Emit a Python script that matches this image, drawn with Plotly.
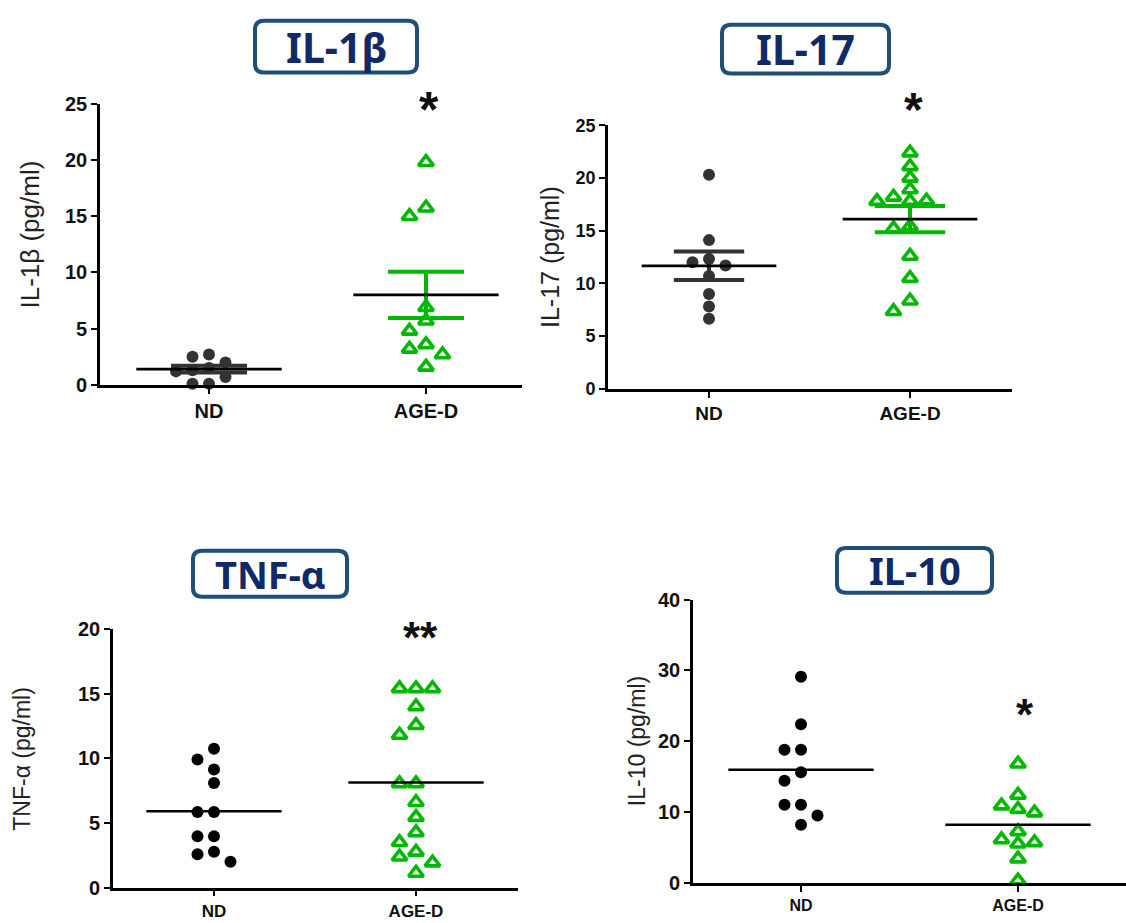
import plotly.graph_objects as go

W, H = 1126, 923

categories = ["ND", "AGE-D"]

# IL-1beta (pg/ml)
il1b_nd = [2.7, 2.5, 2.0, 1.5, 1.3, 1.2, 0.7, 0.1, 0.1]
il1b_age = [19.8, 15.75, 15.0, 6.9, 5.7, 4.8, 3.6, 3.2, 2.7, 1.6]
il1b_mean = [1.4, 8.0]
il1b_sem = [0.3, 2.05]
il1b_sig = ["", "*"]

# IL-17 (pg/ml)
il17_nd = [20.3, 14.1, 12.3, 12.0, 11.7, 10.7, 9.0, 7.8, 6.65]
il17_age = [22.4, 21.1, 20.0, 18.9, 18.2, 17.85, 17.8, 17.8, 15.4, 15.2, 12.6, 10.5, 8.35, 7.35]
il17_mean = [11.66, 16.09]
il17_sem = [1.35, 1.25]
il17_sig = ["", "*"]

# TNF-alpha (pg/ml)
tnf_nd = [10.74, 9.9, 9.13, 8.08, 5.85, 5.85, 3.96, 3.96, 2.78, 2.58, 2.0]
tnf_age = [15.4, 15.4, 15.4, 14.0, 12.55, 11.8, 8.05, 8.05, 6.6, 5.45, 4.27, 3.5, 2.76, 2.38, 1.93, 1.13]
tnf_mean = [5.9, 8.13]
tnf_sig = ["", "**"]

# IL-10 (pg/ml)
il10_nd = [29.1, 22.4, 18.8, 18.8, 15.6, 14.4, 11.0, 11.0, 9.5, 8.2]
il10_age = [16.8, 12.4, 10.9, 10.4, 9.9, 7.25, 6.1, 5.7, 5.5, 3.4, 0.3]
il10_mean = [15.96, 8.2]
il10_sig = ["", "*"]

GREEN = "#00B800"
NAVY = "#0F2A66"
BOX = "#1F4E79"

panels = [
    dict(title="IL-1β", ytitle="IL-1β (pg/ml)", nd=il1b_nd, age=il1b_age, mean=il1b_mean, sem=il1b_sem,
         sig=il1b_sig, yr=[0, 25], dtick=5, px=(100, 522), py=(95, 383), cat=(209, 426),
         nd_color="#333333", tick_size=20, xtick_size=20, ytitle_x=30, ytitle_y=229, ytitle_size=26,
         box=(255, 10, 417, 63), title_size=41, sig_size=50, sig_dx=0.014, sig_px_y=101),
    dict(title="IL-17", ytitle="IL-17 (pg/ml)", nd=il17_nd, age=il17_age, mean=il17_mean, sem=il17_sem,
         sig=il17_sig, yr=[0, 25], dtick=5, px=(608, 1012), py=(117, 387), cat=(709, 910),
         nd_color="#333333", tick_size=18, xtick_size=19, ytitle_x=550, ytitle_y=252, ytitle_size=25,
         box=(722, 14, 889, 64), title_size=41, sig_size=48, sig_dx=0.015, sig_px_y=101),
    dict(title="TNF-α", ytitle="TNF-α (pg/ml)", nd=tnf_nd, age=tnf_age, mean=tnf_mean, sem=None,
         sig=tnf_sig, yr=[0, 20], dtick=5, px=(113, 518), py=(633, 898), cat=(214, 416),
         nd_color="#000000", tick_size=20, xtick_size=17, ytitle_x=22, ytitle_y=766, ytitle_size=23,
         box=(193, 553, 347, 600), title_size=38, sig_size=44, sig_dx=0.02, sig_px_y=642),
    dict(title="IL-10", ytitle="IL-10 (pg/ml)", nd=il10_nd, age=il10_age, mean=il10_mean, sem=None,
         sig=il10_sig, yr=[0, 40], dtick=10, px=(693, 1126), py=(603, 893), cat=(801, 1018),
         nd_color="#000000", tick_size=20, xtick_size=16, ytitle_x=637, ytitle_y=748, ytitle_size=23,
         box=(837, 550, 992, 596), title_size=38, sig_size=44, sig_dx=0.032, sig_px_y=721),
]


def swarm(values, px_per_unit, gap_px=11.5):
    order = sorted(range(len(values)), key=lambda i: -values[i])
    slots = [0] * len(values)
    placed = []
    for i in order:
        chosen = 0
        for s in [0, -1, 1, -2, 2, -3, 3]:
            if all(not (ps == s and abs(values[j] - values[i]) * px_per_unit < gap_px) for j, ps in placed):
                chosen = s
                break
        slots[i] = chosen
        placed.append((i, chosen))
    return slots


def rounded_path(x0, y0, x1, y1, r):
    def P(x, y):
        return f"{x / W:.5f},{1 - y / H:.5f}"
    return (f"M {P(x0 + r, y0)} L {P(x1 - r, y0)} Q {P(x1, y0)} {P(x1, y0 + r)} "
            f"L {P(x1, y1 - r)} Q {P(x1, y1)} {P(x1 - r, y1)} L {P(x0 + r, y1)} "
            f"Q {P(x0, y1)} {P(x0, y1 - r)} L {P(x0, y0 + r)} Q {P(x0, y0)} {P(x0 + r, y0)} Z")


fig = go.Figure()
annotations = []
shapes = []
layout_axes = {}

for k, p in enumerate(panels):
    n = k + 1
    xa = "x" if n == 1 else f"x{n}"
    ya = "y" if n == 1 else f"y{n}"
    cat_px = p["cat"][1] - p["cat"][0]
    xr = [-(p["cat"][0] - p["px"][0]) / cat_px, (p["px"][1] - p["cat"][0]) / cat_px]
    y_ppu = (p["py"][1] - p["py"][0]) / (p["yr"][1] - p["yr"][0])
    slot_w = 16.5 / cat_px

    groups = [(p["nd"], 0, p["nd_color"], "circle", 12, 0),
              (p["age"], 1, GREEN, "triangle-up-open", 13, 3.6)]
    for vals, base, color, sym, size, lw in groups:
        slots = swarm(vals, y_ppu)
        fig.add_trace(go.Scatter(
            x=[base + s * slot_w for s in slots], y=vals, mode="markers",
            marker=dict(symbol=sym, size=size, color=color, line=dict(width=lw, color=color)),
            xaxis=xa, yaxis=ya, cliponaxis=False, showlegend=False, hoverinfo="y"))

    if p["sem"] is not None:
        for base, color in [(0, p["nd_color"]), (1, GREEN)]:
            m, s = p["mean"][base], p["sem"][base]
            cw = 0.175
            fig.add_trace(go.Scatter(
                x=[base - cw, base + cw, None, base, base, None, base - cw, base + cw],
                y=[m + s, m + s, None, m + s, m - s, None, m - s, m - s],
                mode="lines", line=dict(color=color, width=4), xaxis=xa, yaxis=ya,
                cliponaxis=False, showlegend=False, hoverinfo="skip"))
    for base in [0, 1]:
        m = p["mean"][base]
        fig.add_trace(go.Scatter(
            x=[base - 0.335, base + 0.335], y=[m, m], mode="lines",
            line=dict(color="#000000", width=2.6), xaxis=xa, yaxis=ya,
            cliponaxis=False, showlegend=False, hoverinfo="skip"))

    dom_x = [p["px"][0] / W, p["px"][1] / W]
    dom_y = [1 - p["py"][1] / H, 1 - p["py"][0] / H]
    key_x = "xaxis" if n == 1 else f"xaxis{n}"
    key_y = "yaxis" if n == 1 else f"yaxis{n}"
    layout_axes[key_x] = dict(
        domain=dom_x, range=xr, anchor=ya, tickvals=[0, 1], ticktext=categories,
        showline=True, linecolor="black", linewidth=2.6, ticks="outside", ticklen=6,
        tickwidth=2.2, tickcolor="black", showgrid=False, zeroline=False,
        tickfont=dict(family="Liberation Sans, Arial", size=p["xtick_size"], color="#111111", weight="bold"))
    layout_axes[key_y] = dict(
        domain=dom_y, range=p["yr"], anchor=xa, tick0=0, dtick=p["dtick"],
        showline=True, linecolor="black", linewidth=2.6, ticks="outside", ticklen=6,
        tickwidth=2.2, tickcolor="black", showgrid=False, zeroline=False,
        tickfont=dict(family="Liberation Sans, Arial", size=p["tick_size"], color="#111111", weight="bold"))

    annotations.append(dict(
        text=p["ytitle"], xref="paper", yref="paper", x=p["ytitle_x"] / W,
        y=1 - p["ytitle_y"] / H, textangle=-90, showarrow=False,
        xanchor="center", yanchor="middle",
        font=dict(family="Liberation Sans, Arial", size=p["ytitle_size"], color="#222222")))

    for base in [0, 1]:
        if p["sig"][base]:
            sx = p["cat"][0] + (base + p["sig_dx"]) * cat_px
            annotations.append(dict(
                text=f"<b>{p['sig'][base]}</b>", xref="paper", yref="paper", x=sx / W,
                y=1 - p["sig_px_y"] / H, showarrow=False, xanchor="center", yanchor="middle",
                font=dict(family="Liberation Sans, Arial", size=p["sig_size"], color="#111111")))

    bx0, by0, bx1, by1 = p["box"]
    shapes.append(dict(type="path", path=rounded_path(bx0, by0, bx1, by1, 9), xref="paper", yref="paper",
                       line=dict(color=BOX, width=4), fillcolor="white", layer="above"))
    annotations.append(dict(
        text=f"<b>{p['title']}</b>", xref="paper", yref="paper", x=(bx0 + bx1) / 2 / W,
        y=1 - (by0 + by1) / 2 / H, showarrow=False, xanchor="center", yanchor="middle",
        font=dict(family="Noto Sans, Open Sans", size=p["title_size"], color=NAVY)))

fig.update_layout(
    width=W, height=H, margin=dict(l=0, r=0, t=0, b=0),
    plot_bgcolor="white", paper_bgcolor="white", showlegend=False,
    annotations=annotations, shapes=shapes, **layout_axes)

POST = (
    "document.documentElement.style.margin='0px';"
    "document.documentElement.style.padding='0px';"
    "document.documentElement.style.overflow='hidden';"
    "document.body.style.margin='0px';"
    "document.body.style.padding='0px';"
    "document.body.style.overflow='hidden';"
)

fig.write_html("out.html", config={"displayModeBar": False, "responsive": False}, post_script=POST)
